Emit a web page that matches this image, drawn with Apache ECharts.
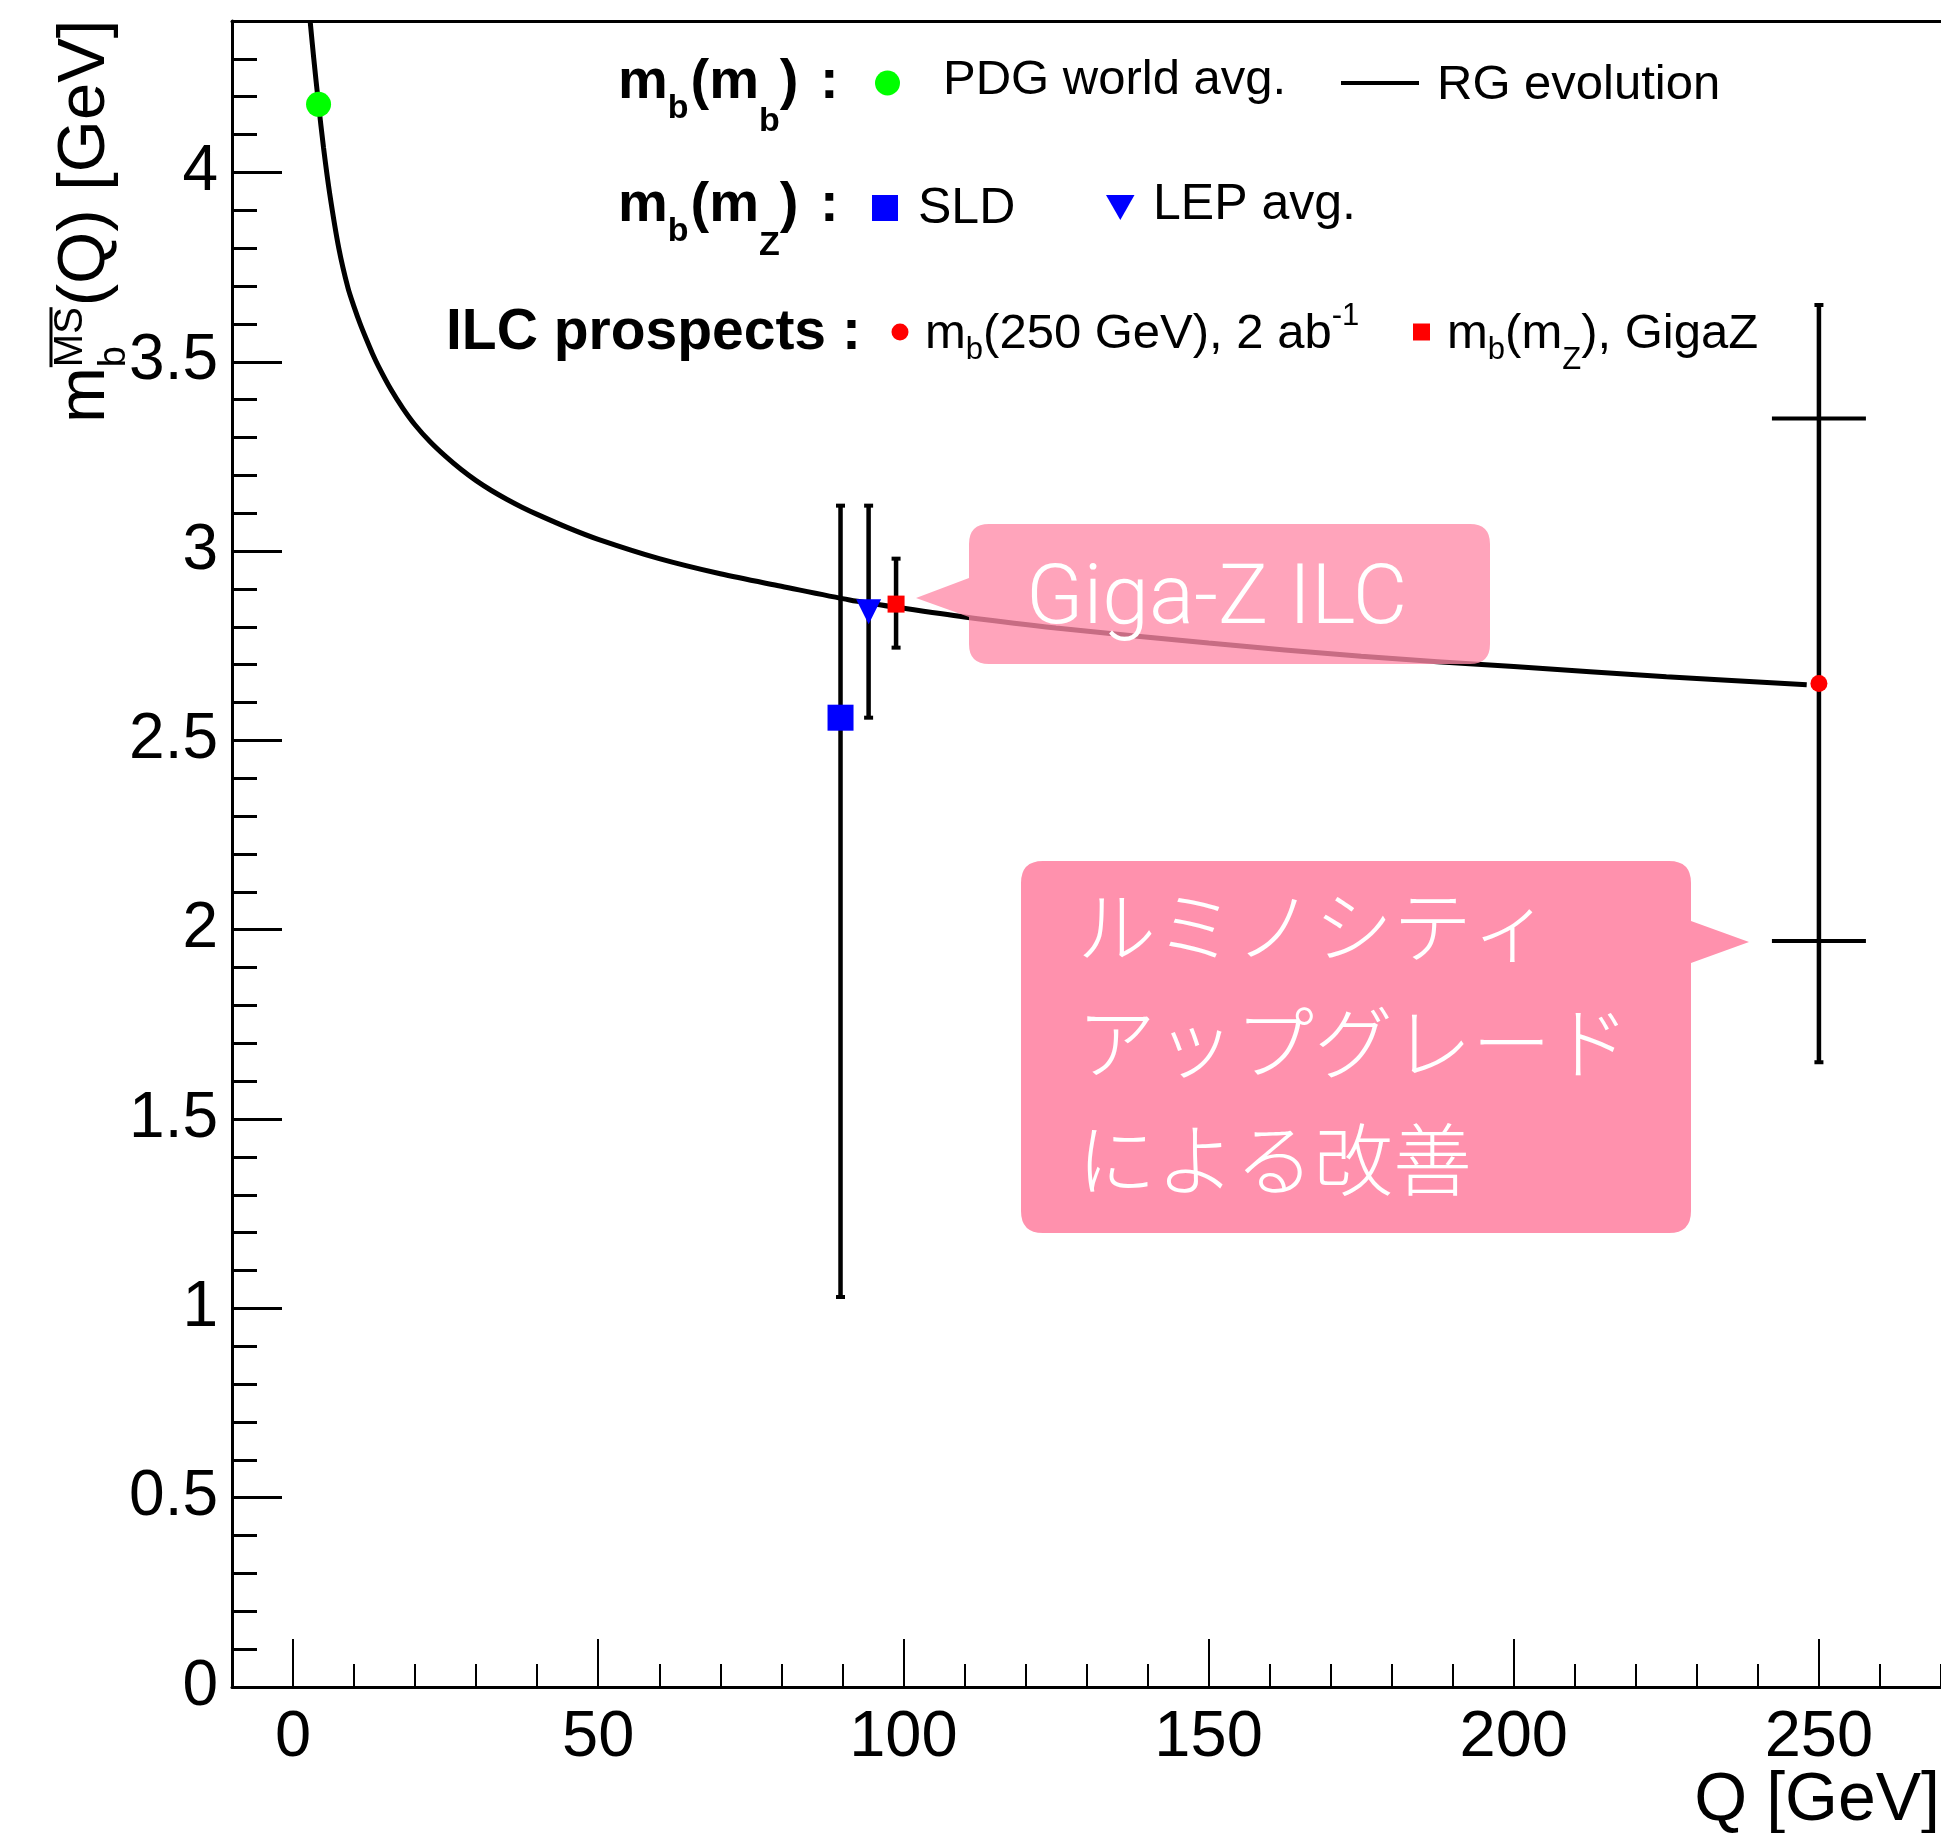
<!DOCTYPE html>
<html>
<head>
<meta charset="utf-8">
<script src="https://cdn.jsdelivr.net/npm/echarts@6/dist/echarts.min.js"></script>
<style>
html, body { margin: 0; padding: 0; background: #fff; }
#main { width: 1941px; height: 1833px; }
</style>
</head>
<body>
<div id="main"></div>
<script>
// RG evolution curve m_b(Q)
var RG_Q = [2.8, 3.4, 4.18, 5, 6, 7.5, 9, 10, 11, 12, 13, 14, 16, 18, 20, 22.5, 25, 27.5, 30, 32.5, 35, 37.5, 40, 45, 50, 60, 70, 80, 91.2, 100, 110, 125, 150, 175, 200, 225, 248];
var RG_M = [4.40, 4.30, 4.18, 4.065, 3.945, 3.80, 3.695, 3.645, 3.60, 3.56, 3.522, 3.488, 3.428, 3.377, 3.333, 3.288, 3.25, 3.216, 3.186, 3.16, 3.137, 3.116, 3.097, 3.062, 3.031, 2.98, 2.94, 2.907, 2.871, 2.849, 2.826, 2.797, 2.757, 2.722, 2.695, 2.668, 2.647];

// PDG world average m_b(m_b)
var PDG = [4.18, 4.18];

// measurements / prospects: SLD, LEP avg., GigaZ, 250 GeV 2 ab-1
var MEAS_Q  = [89.7, 94.3, 98.8, 250];
var MEAS_M  = [2.56, 2.84, 2.86, 2.65];
var MEAS_LO = [1.03, 2.56, 2.745, 1.65];
var MEAS_HI = [3.12, 3.12, 2.98, 3.65];

// luminosity upgrade bounds at 250 GeV
var LUMI_Q = 250;
var LUMI_M = [3.35, 1.97];
var LUMI_QERR = 7.7;

var X_TICKS = [0, 50, 100, 150, 200, 250];
var Y_TICKS = [0, 0.5, 1, 1.5, 2, 2.5, 3, 3.5, 4];

var FONT = '"Liberation Sans", Arial, Helvetica, sans-serif';
var MID = 0.3465; // canvas 'middle' above baseline, in em

var ctx = document.createElement('canvas').getContext('2d');
function textW(t, s, w) {
  ctx.font = (w || 'normal') + ' ' + s + 'px ' + FONT;
  return ctx.measureText(t).width;
}
function txt(t, x, y, s, w, extra) {
  var el = {
    type: 'text', x: x, y: y, z: 100, silent: true,
    style: {
      text: t, fontSize: s, fontFamily: FONT, fontWeight: w || 'normal', fill: '#000',
      align: 'left', verticalAlign: 'middle', textAlign: 'left', textVerticalAlign: 'middle'
    }
  };
  if (extra) for (var k in extra) el.style[k] = extra[k];
  return el;
}
// a line of text with sub/superscripts, x0 = start, base = baseline
function runs(parts, x0, base) {
  var out = [], x = x0;
  parts.forEach(function (p) {
    x += p.gap || 0;
    out.push(txt(p.t, x, base + (p.dy || 0) - MID * p.s, p.s, p.w));
    x += textW(p.t, p.s, p.w);
  });
  return out;
}

var B = 'bold';
var graphics = [];
// legend row 1
graphics = graphics.concat(runs([
  {t: 'm', s: 56, w: B}, {t: 'b', s: 34, w: B, dy: 18}, {t: '(', s: 56, w: B, gap: 2},
  {t: 'm', s: 56, w: B}, {t: 'b', s: 34, w: B, dy: 31}, {t: ')', s: 56, w: B}, {t: ' :', s: 56, w: B, gap: 6}
], 618, 102));
graphics = graphics.concat(runs([{t: 'PDG world avg.', s: 49}], 943, 97));
graphics = graphics.concat(runs([{t: 'RG evolution', s: 49}], 1437, 102));
// legend row 2
graphics = graphics.concat(runs([
  {t: 'm', s: 56, w: B}, {t: 'b', s: 34, w: B, dy: 18}, {t: '(', s: 56, w: B, gap: 2},
  {t: 'm', s: 56, w: B}, {t: 'Z', s: 34, w: B, dy: 32}, {t: ')', s: 56, w: B}, {t: ' :', s: 56, w: B, gap: 6}
], 618, 225));
graphics = graphics.concat(runs([{t: 'SLD', s: 50}], 918, 227));
graphics = graphics.concat(runs([{t: 'LEP avg.', s: 50}], 1153, 223));
// legend row 3
graphics = graphics.concat(runs([{t: 'ILC prospects :', s: 57, w: B}], 446, 353));
graphics = graphics.concat(runs([
  {t: 'm', s: 49}, {t: 'b', s: 31, dy: 10}, {t: '(250 GeV), 2 ab', s: 49}, {t: '-1', s: 31, dy: -24}
], 925, 351));
graphics = graphics.concat(runs([
  {t: 'm', s: 49}, {t: 'b', s: 31, dy: 10}, {t: '(m', s: 49}, {t: 'Z', s: 31, dy: 20}, {t: '), GigaZ', s: 49}
], 1447, 351));

// legend symbols
graphics.push(
  {type: 'circle', z: 100, shape: {cx: 887.5, cy: 83, r: 12.5}, style: {fill: '#00ff00'}},
  {type: 'line', z: 100, shape: {x1: 1341, y1: 83, x2: 1419, y2: 83}, style: {stroke: '#000', lineWidth: 4}},
  {type: 'rect', z: 100, shape: {x: 872, y: 195, width: 26, height: 26}, style: {fill: '#0000ff'}},
  {type: 'polygon', z: 100, shape: {points: [[1106, 195], [1134.5, 195], [1120.3, 220]]}, style: {fill: '#0000ff'}},
  {type: 'circle', z: 100, shape: {cx: 900, cy: 332, r: 8.5}, style: {fill: '#ff0000'}},
  {type: 'rect', z: 100, shape: {x: 1413, y: 323.5, width: 17, height: 17}, style: {fill: '#ff0000'}}
);

// y axis title, rotated
var wm = textW('m', 67), wb = textW('b', 38), wMS = textW('MS', 40);
var lxs = wm;
graphics.push({
  type: 'group', x: 109, y: 423, rotation: Math.PI / 2, z: 100,
  children: [
    txt('m', 0, -MID * 67, 67),
    txt('b', lxs, 19 - MID * 38, 38),
    txt('MS', lxs, -24 - MID * 40, 40),
    {type: 'line', shape: {x1: lxs, y1: -58, x2: lxs + wMS, y2: -58}, style: {stroke: '#000', lineWidth: 3}},
    txt('(Q) [GeV]', lxs + Math.max(wb, wMS) + 1, -MID * 67, 67)
  ]
});
// x axis title
graphics.push(txt('Q [GeV]', 1940, 1825 - MID * 68, 68, 'normal', {align: 'right', textAlign: 'right'}));

// callout texts
graphics.push({
  type: 'text', x: 1026, y: 631 - 0.3415 * 84, z: 110, silent: true,
  style: {text: 'Giga-Z ILC', fontSize: 84, fontFamily: 'Roboto, "Liberation Sans", sans-serif', fontWeight: 300,
    fill: '#fff', align: 'left', verticalAlign: 'middle'}
});
graphics.push({
  type: 'text', x: 1077, y: 1043, z: 110, silent: true,
  style: {text: 'ルミノシティ\nアップグレード\nによる改善', fontSize: 79, lineHeight: 116.5,
    fontFamily: '"Noto Sans CJK JP", sans-serif', fontWeight: 300,
    fill: '#fff', align: 'left', verticalAlign: 'middle'}
});

var GIGA_PATH = 'M989 524 L1470 524 Q1490 524 1490 544 L1490 644 Q1490 664 1470 664 L989 664 Q969 664 969 644 L969 617 L916 598 L969 578 L969 544 Q969 524 989 524 Z';
var LUMI_PATH = 'M1043 861 L1669 861 Q1691 861 1691 883 L1691 921 L1749 942 L1691 963 L1691 1211 Q1691 1233 1669 1233 L1043 1233 Q1021 1233 1021 1211 L1021 883 Q1021 861 1043 861 Z';

function renderErr(params, api) {
  var q = api.value(0);
  var lo = api.coord([q, api.value(1)]);
  var hi = api.coord([q, api.value(2)]);
  return {type: 'group', children: [
    {type: 'line', shape: {x1: lo[0], y1: lo[1], x2: hi[0], y2: hi[1]}, style: {stroke: '#000', lineWidth: 4.5}},
    {type: 'line', shape: {x1: lo[0] - 4.5, y1: lo[1], x2: lo[0] + 4.5, y2: lo[1]}, style: {stroke: '#000', lineWidth: 4}},
    {type: 'line', shape: {x1: hi[0] - 4.5, y1: hi[1], x2: hi[0] + 4.5, y2: hi[1]}, style: {stroke: '#000', lineWidth: 4}}
  ]};
}
function renderCross(params, api) {
  var q = api.value(0), m = api.value(1), dq = api.value(2);
  var a = api.coord([q - dq, m]), b = api.coord([q + dq, m]);
  return {type: 'line', shape: {x1: a[0], y1: a[1], x2: b[0], y2: b[1]}, style: {stroke: '#000', lineWidth: 4}};
}
function renderBubbles() {
  return {type: 'group', children: [
    {type: 'path', shape: {pathData: GIGA_PATH}, style: {fill: 'rgba(255,138,168,0.78)'}},
    {type: 'path', shape: {pathData: LUMI_PATH}, style: {fill: '#ff91ad'}}
  ]};
}

var myChart = echarts.init(document.getElementById('main'));
var option = {
  animation: false,
  backgroundColor: '#fff',
  grid: {left: 232, right: 0, top: 21, bottom: 146, containLabel: false, outerBoundsMode: 'none'},
  xAxis: [
    {type: 'value', min: -10, max: 270, interval: 10, position: 'bottom',
      axisLine: {show: true, onZero: false, lineStyle: {color: '#000', width: 3}},
      axisTick: {show: true, inside: true, length: 23, lineStyle: {color: '#000', width: 2}},
      axisLabel: {show: false}, splitLine: {show: false}},
    {type: 'value', min: -10, max: 270, position: 'bottom',
      axisLine: {show: false, onZero: false},
      axisTick: {show: true, inside: true, length: 48, customValues: X_TICKS, lineStyle: {color: '#000', width: 2}},
      axisLabel: {show: true, customValues: X_TICKS, fontSize: 65, fontFamily: FONT, color: '#000', margin: 19},
      splitLine: {show: false}},
    {type: 'value', min: -10, max: 270, position: 'top',
      axisLine: {show: true, onZero: false, lineStyle: {color: '#000', width: 3}},
      axisTick: {show: false}, axisLabel: {show: false}, splitLine: {show: false}}
  ],
  yAxis: [
    {type: 'value', min: 0, max: 4.4, interval: 0.1, position: 'left',
      axisLine: {show: true, onZero: false, lineStyle: {color: '#000', width: 3}},
      axisTick: {show: true, inside: true, length: 25, lineStyle: {color: '#000', width: 3}},
      axisLabel: {show: false}, splitLine: {show: false}},
    {type: 'value', min: 0, max: 4.4, position: 'left',
      axisLine: {show: false, onZero: false},
      axisTick: {show: true, inside: true, length: 50, customValues: Y_TICKS, lineStyle: {color: '#000', width: 3}},
      axisLabel: {show: true, customValues: Y_TICKS, fontSize: 64, fontFamily: FONT, color: '#000', margin: 14},
      splitLine: {show: false}}
  ],
  graphic: {elements: graphics},
  series: [
    {name: 'RG evolution', type: 'line', data: RG_Q.map(function (q, i) { return [q, RG_M[i]]; }),
      symbol: 'none', smooth: 0.3, lineStyle: {color: '#000', width: 5}, z: 2, silent: true},
    {name: 'errors', type: 'custom', renderItem: renderErr, z: 3, silent: true,
      data: MEAS_Q.map(function (q, i) { return [q, MEAS_LO[i], MEAS_HI[i]]; })},
    {name: 'lumi', type: 'custom', renderItem: renderCross, z: 3, silent: true,
      data: LUMI_M.map(function (m) { return [LUMI_Q, m, LUMI_QERR]; })},
    {name: 'PDG world avg.', type: 'scatter', data: [PDG], symbol: 'circle', symbolSize: 25,
      itemStyle: {color: '#00ff00', opacity: 1}, z: 5, silent: true},
    {name: 'SLD', type: 'scatter', data: [[MEAS_Q[0], MEAS_M[0]]], symbol: 'rect', symbolSize: 26,
      itemStyle: {color: '#0000ff', opacity: 1}, z: 5, silent: true},
    {name: 'LEP avg.', type: 'scatter', data: [[MEAS_Q[1], MEAS_M[1]]], symbol: 'triangle', symbolRotate: 180,
      symbolSize: 25, itemStyle: {color: '#0000ff', opacity: 1}, z: 5, silent: true},
    {name: 'GigaZ', type: 'scatter', data: [[MEAS_Q[2], MEAS_M[2]]], symbol: 'rect', symbolSize: 17,
      itemStyle: {color: '#ff0000', opacity: 1}, z: 5, silent: true},
    {name: '250 GeV', type: 'scatter', data: [[MEAS_Q[3], MEAS_M[3]]], symbol: 'circle', symbolSize: 17,
      itemStyle: {color: '#ff0000', opacity: 1}, z: 5, silent: true},
    {name: 'callouts', type: 'custom', coordinateSystem: 'none', renderItem: renderBubbles, data: [0], z: 10, silent: true}
  ]
};
myChart.setOption(option);
</script>
</body>
</html>
